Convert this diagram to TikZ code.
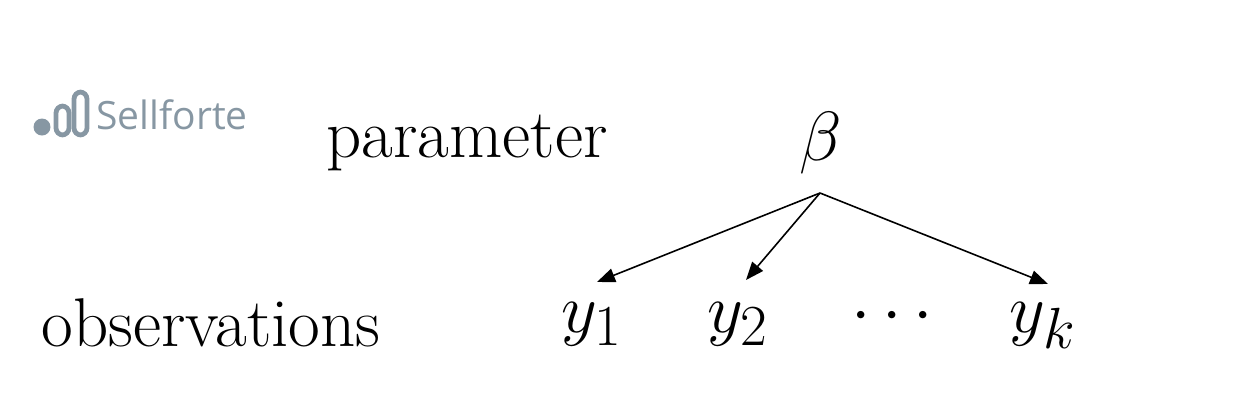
\documentclass[tikz,border=0pt]{standalone}
\usepackage{fontspec}
\newfontfamily\logofont{Open Sans}
\usetikzlibrary{arrows.meta}
\definecolor{logogray}{HTML}{8797A3}
\begin{document}
\begin{tikzpicture}[x=0.5pt,y=-0.5pt,
  lbl/.style={inner sep=0pt,anchor=base,font=\fontsize{34.5}{40}\selectfont},
  mth/.style={inner sep=0pt,anchor=base,scale=1.4,transform shape,font=\fontsize{24.88}{30}\selectfont},
  arr/.style={-{Triangle[length=9pt,width=7pt]},line width=0.8pt}]
\useasboundingbox (0,0) rectangle (1240,408);
% logo
\fill[logogray] (42,127) circle (8.5);
\draw[logogray,line width=2.4pt,rounded corners=3.5pt] (56,135) rectangle (69,106);
\draw[logogray,line width=2.4pt,rounded corners=3.5pt] (74,135) rectangle (87,92);
\node[anchor=base west,inner sep=0pt,text=logogray,font=\logofont\fontsize{19.5}{22}\selectfont] (logo) at (96,129) {Sellforte};
% labels
\node[lbl] (par) at (467,157) {parameter};
\node[lbl] (obs) at (211,346) {observations};
\node[mth] (b) at (821,160) {$\beta$};
\node[mth] (y1) at (592,332) {$y_1$};
\node[mth] (y2) at (738,332) {$y_2$};
\node[mth] (dots) at (892,332) {$\cdots$};
\node[mth] (yk) at (1043,332) {$y_k$};
\coordinate (top) at (820,193);
\draw[arr] (top) -- (597,282);
\draw[arr] (top) -- (746,280);
\draw[arr] (top) -- (1048,284);
\end{tikzpicture}
\end{document}
